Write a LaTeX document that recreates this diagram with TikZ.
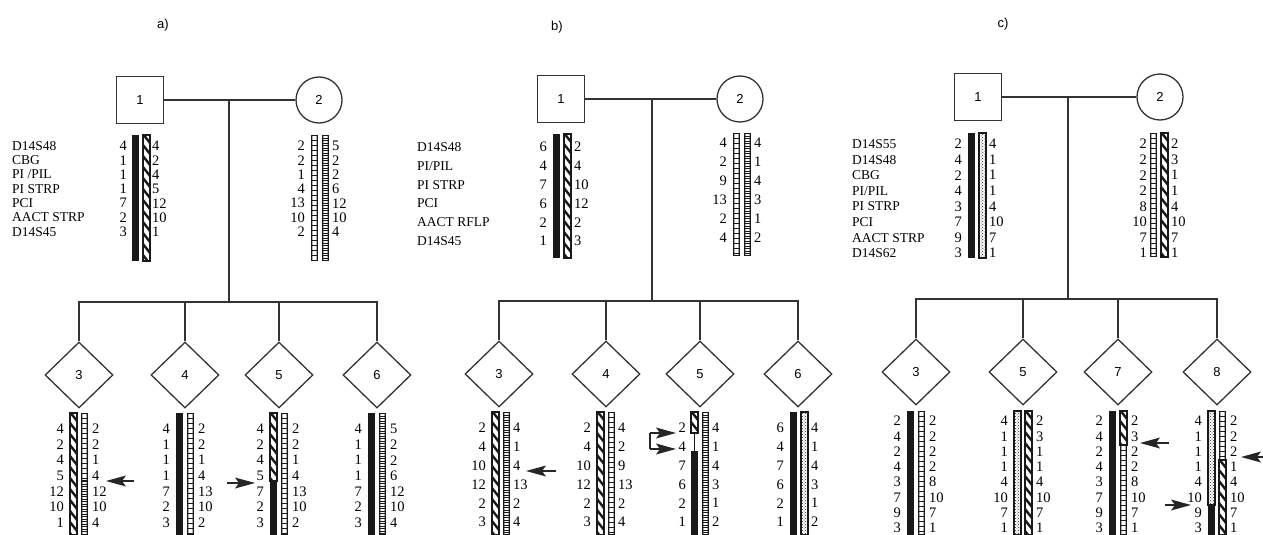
\documentclass[tikz,border=0pt]{standalone}
\usepackage{fontspec}
\setmainfont{Liberation Serif}
\newfontfamily\labfont{Liberation Sans}
\usetikzlibrary{shapes.geometric,patterns}

\tikzset{
  ln/.style={line width=1.3pt, draw=black!80},
  kid/.style={diamond, ln, minimum width=68pt, minimum height=66pt, inner sep=0pt, font=\labfont\fontsize{13}{13}\selectfont},
  male/.style={rectangle, ln, minimum size=47pt, inner sep=0pt, font=\labfont\fontsize{13}{13}\selectfont},
  female/.style={circle, ln, minimum size=46pt, inner sep=0pt, font=\labfont\fontsize{13}{13}\selectfont},
  num/.style={inner sep=0pt, font=\fontsize{14.5}{14.5}\selectfont},
  mk/.style={inner sep=0pt, anchor=west, font=\fontsize{13.5}{13.5}\selectfont},
  shaft/.style={line width=2.4pt, draw=black!85, shorten >=12pt},
  plab/.style={inner sep=0pt, font=\labfont\fontsize{13}{13}\selectfont}
}

% arrowhead: #1 tip coordinate, #2 = 1 points right, -1 points left
\newcommand\ahead[2]{\fill[black!85] (#1) -- ++({-#2*20},-5.5) -- ++({#2*4},5.5) -- ++({-#2*4},5.5) -- cycle;}

% bar patterns: #1 x-left, #2 x-right, #3 y-top, #4 y-bottom
\newcommand\bsolid[4]{\fill[black!90] (#1,#3) rectangle (#2,#4);}
\newcommand\bboxes[4]{%
  \fill[black!90] (#1,#3) rectangle (#2,#4);
  \begin{scope}
    \clip ({#1+1.4},{#3+1.4}) rectangle ({#2-1.4},{#4-1.4});
    \pgfmathsetmacro\bA{#3+1.4}\pgfmathsetmacro\bB{#3+6.4}
    \foreach \yy in {\bA,\bB,...,#4} \fill[white] ({#1+1.4},\yy) rectangle ({#2-1.4},\yy+3.4);
  \end{scope}}
\newcommand\bfine[4]{%
  \fill[black!90] (#1,#3) rectangle (#2,#4);
  \begin{scope}
    \clip ({#1+1.3},{#3+1.3}) rectangle ({#2-1.3},{#4-1.3});
    \pgfmathsetmacro\fA{#3+1.3}\pgfmathsetmacro\fB{#3+3.8}
    \foreach \yy in {\fA,\fB,...,#4} \fill[white] ({#1+1.3},\yy) rectangle ({#2-1.3},\yy+1.2);
  \end{scope}}
\newcommand\bhatch[4]{%
  \fill[white] (#1,#3) rectangle (#2,#4);
  \begin{scope}
    \clip (#1,#3) rectangle (#2,#4);
    \pgfmathsetmacro\hA{#3-12}\pgfmathsetmacro\hB{#3-1}
    \foreach \yy in {\hA,\hB,...,#4} \draw[line width=2.4pt, black!90] (#1,\yy) -- (#2,\yy+9);
  \end{scope}
  \draw[line width=1.2pt, black!90] (#1,#3) rectangle (#2,#4);}
\newcommand\bdots[4]{%
  \fill[white] (#1,#3) rectangle (#2,#4);
  \fill[pattern=crosshatch dots, pattern color=black!85] (#1,#3) rectangle (#2,#4);
  \draw[line width=1.2pt, black!90] (#1,#3) rectangle (#2,#4);}

% number column: #1 name prefix, #2 x, #3 y0, #4 dy, #5 anchor, #6 list
\newcommand\numcol[6]{\foreach \v [count=\i from 0] in {#6} \node[num,anchor=#5] (#1\i) at (#2,{#3+#4*\i}) {\v};}
\newcommand\mkcol[5]{\foreach \v [count=\i from 0] in {#5} \node[mk] (#1\i) at (#2,{#3+#4*\i}) {\v};}

\begin{document}
\begin{tikzpicture}[x=1pt,y=-1pt]
\fill[white] (0,0) rectangle (1263,535);
\useasboundingbox (0,0) rectangle (1263,535);

% ================= panel a =================
\node[plab] (la) at (163,25) {a)};
\node[male] (aF) at (140,100) {1};
\node[female] (aM) at (319,100) {2};
\coordinate (aMid) at (229,100);
\coordinate (aSib) at (229,302);
\node[kid] (a3) at (79,375) {3};
\node[kid] (a4) at (185,375) {4};
\node[kid] (a5) at (279,375) {5};
\node[kid] (a6) at (377,375) {6};
\draw[ln] (aF.east) -- (aM.west);
\draw[ln] (aMid) -- (aSib);
\draw[ln] (a3.north) |- (aSib) -| (a6.north);
\draw[ln] (a4.north) -- (a4.north |- aSib);
\draw[ln] (a5.north) -- (a5.north |- aSib);

\mkcol{amk}{12}{146}{14.3}{D14S48, CBG, PI /PIL, PI STRP, PCI, AACT STRP, D14S45}
\bsolid{132}{139}{135}{261}\bhatch{143}{150}{135}{261}
\numcol{aFl}{127}{146}{14.3}{east}{4,1,1,1,7,2,3}
\numcol{aFr}{152}{146}{14.3}{west}{4,2,4,5,12,10,1}
\bboxes{311}{318}{135}{261}\bfine{322}{329}{135}{261}
\numcol{aMl}{305}{146}{14.3}{east}{2,2,1,4,13,10,2}
\numcol{aMr}{332}{146}{14.3}{west}{5,2,2,6,12,10,4}

% children a
\bhatch{70}{77}{413}{535}
\bboxes{81}{88}{413}{481}\bfine{81}{88}{481}{535}
\numcol{a3l}{64}{429}{15.6}{east}{4,2,4,5,12,10,1}
\numcol{a3r}{92}{429}{15.6}{west}{2,2,1,4,12,10,4}
\bsolid{176}{183}{413}{535}\bboxes{187}{194}{413}{535}
\numcol{a4l}{170}{429}{15.6}{east}{4,1,1,1,7,2,3}
\numcol{a4r}{198}{429}{15.6}{west}{2,2,1,4,13,10,2}
\bhatch{270}{277}{413}{481}\bsolid{270}{277}{481}{535}
\bboxes{281}{288}{413}{535}
\numcol{a5l}{264}{429}{15.6}{east}{4,2,4,5,7,2,3}
\numcol{a5r}{292}{429}{15.6}{west}{2,2,1,4,13,10,2}
\bsolid{368}{375}{413}{535}\bfine{379}{386}{413}{535}
\numcol{a6l}{362}{429}{15.6}{east}{4,1,1,1,7,2,3}
\numcol{a6r}{390}{429}{15.6}{west}{5,2,2,6,12,10,4}

\coordinate (aA1t) at (134,481); \coordinate (aA1h) at (106,481);
\draw[shaft] (aA1t) -- (aA1h); \ahead{aA1h}{-1}
\coordinate (aA2t) at (227,483); \coordinate (aA2h) at (255,483);
\draw[shaft] (aA2t) -- (aA2h); \ahead{aA2h}{1}

% ================= panel b =================
\node[plab] (lb) at (557,27) {b)};
\node[male] (bF) at (561,99) {1};
\node[female] (bM) at (740,99) {2};
\coordinate (bMid) at (652,99);
\coordinate (bSib) at (652,301);
\node[kid] (b3) at (499,374) {3};
\node[kid] (b4) at (606,374) {4};
\node[kid] (b5) at (700,374) {5};
\node[kid] (b6) at (798,374) {6};
\draw[ln] (bF.east) -- (bM.west);
\draw[ln] (bMid) -- (bSib);
\draw[ln] (b3.north) |- (bSib) -| (b6.north);
\draw[ln] (b4.north) -- (b4.north |- bSib);
\draw[ln] (b5.north) -- (b5.north |- bSib);

\mkcol{bmk}{417}{147}{18.8}{D14S48, PI/PIL, PI STRP, PCI, AACT RFLP, D14S45}
\bsolid{553}{560}{134}{258}\bhatch{564}{571}{134}{258}
\numcol{bFl}{547}{147}{18.8}{east}{6,4,7,6,2,1}
\numcol{bFr}{574}{147}{18.8}{west}{2,4,10,12,2,3}
\bboxes{733}{740}{133}{256}\bfine{744}{751}{133}{256}
\numcol{bMl}{727}{143}{19}{east}{4,2,9,13,2,4}
\numcol{bMr}{754}{143}{19}{west}{4,1,4,3,1,2}

% children b
\bhatch{492}{499}{412}{535}\bfine{503}{510}{412}{535}
\numcol{b3l}{486}{428}{18.8}{east}{2,4,10,12,2,3}
\numcol{b3r}{513}{428}{18.8}{west}{4,1,4,13,2,4}
\bhatch{597}{604}{412}{535}\bboxes{608}{615}{412}{535}
\numcol{b4l}{591}{428}{18.8}{east}{2,4,10,12,2,3}
\numcol{b4r}{618}{428}{18.8}{west}{4,2,9,13,2,4}
\bhatch{691}{698}{412}{433}
\draw[line width=1pt, black!90] (694.5,433) -- (694.5,451);
\bsolid{691}{698}{451}{535}
\bfine{702}{709}{412}{535}
\numcol{b5l}{686}{428}{18.8}{east}{2,4,7,6,2,1}
\numcol{b5r}{712}{428}{18.8}{west}{4,1,4,3,1,2}
\bsolid{790}{797}{412}{535}\bdots{801}{808}{412}{535}
\numcol{b6l}{784}{428}{18.8}{east}{6,4,7,6,2,1}
\numcol{b6r}{811}{428}{18.8}{west}{4,1,4,3,1,2}

\coordinate (bA1t) at (556,471); \coordinate (bA1h) at (526,471);
\draw[shaft] (bA1t) -- (bA1h); \ahead{bA1h}{-1}
\coordinate (bB1) at (650,433); \coordinate (bB1h) at (676,433);
\coordinate (bB2) at (650,449); \coordinate (bB2h) at (676,449);
\draw[line width=2.8pt, black!85] (bB1) -- (bB2);
\draw[shaft] (bB1) -- (bB1h); \ahead{bB1h}{1}
\draw[shaft] (bB2) -- (bB2h); \ahead{bB2h}{1}

% ================= panel c =================
\node[plab] (lc) at (1003,24) {c)};
\node[male] (cF) at (978,97) {1};
\node[female] (cM) at (1160,97) {2};
\coordinate (cMid) at (1068,97);
\coordinate (cSib) at (1068,299);
\node[kid] (c3) at (916,372) {3};
\node[kid] (c5) at (1023,372) {5};
\node[kid] (c7) at (1118,372) {7};
\node[kid] (c8) at (1217,372) {8};
\draw[ln] (cF.east) -- (cM.west);
\draw[ln] (cMid) -- (cSib);
\draw[ln] (c3.north) |- (cSib) -| (c8.north);
\draw[ln] (c5.north) -- (c5.north |- cSib);
\draw[ln] (c7.north) -- (c7.north |- cSib);

\mkcol{cmk}{852}{144}{15.6}{D14S55, D14S48, CBG, PI/PIL, PI STRP, PCI, AACT STRP, D14S62}
\bsolid{968}{975}{133}{258}\bdots{979}{986}{133}{258}
\numcol{cFl}{962}{144}{15.6}{east}{2,4,2,4,3,7,9,3}
\numcol{cFr}{989}{144}{15.6}{west}{4,1,1,1,4,10,7,1}
\bboxes{1150}{1157}{133}{257}\bhatch{1161}{1168}{133}{257}
\numcol{cMl}{1147}{144}{15.6}{east}{2,2,2,2,8,10,7,1}
\numcol{cMr}{1171}{144}{15.6}{west}{2,3,1,1,4,10,7,1}

% children c
\bsolid{907}{914}{411}{535}\bboxes{918}{925}{411}{535}
\numcol{c3l}{901}{421}{15.3}{east}{2,4,2,4,3,7,9,3}
\numcol{c3r}{929}{421}{15.3}{west}{2,2,2,2,8,10,7,1}
\bdots{1014}{1021}{411}{535}\bhatch{1025}{1032}{411}{535}
\numcol{c5l}{1008}{421}{15.3}{east}{4,1,1,1,4,10,7,1}
\numcol{c5r}{1036}{421}{15.3}{west}{2,3,1,1,4,10,7,1}
\bsolid{1109}{1116}{411}{535}
\bhatch{1120}{1127}{411}{445}\bboxes{1120}{1127}{445}{535}
\numcol{c7l}{1103}{421}{15.3}{east}{2,4,2,4,3,7,9,3}
\numcol{c7r}{1131}{421}{15.3}{west}{2,3,2,2,8,10,7,1}
\bdots{1208}{1215}{411}{505}\bsolid{1208}{1215}{505}{535}
\bboxes{1219}{1226}{411}{460}\bhatch{1219}{1226}{460}{535}
\numcol{c8l}{1202}{421}{15.3}{east}{4,1,1,1,4,10,9,3}
\numcol{c8r}{1230}{421}{15.3}{west}{2,2,2,1,4,10,7,1}

\coordinate (cA1t) at (1169,443); \coordinate (cA1h) at (1140,443);
\draw[shaft] (cA1t) -- (cA1h); \ahead{cA1h}{-1}
\coordinate (cA2t) at (1165,505); \coordinate (cA2h) at (1191,505);
\draw[shaft] (cA2t) -- (cA2h); \ahead{cA2h}{1}
\coordinate (cA3t) at (1268,457); \coordinate (cA3h) at (1241,457);
\draw[shaft] (cA3t) -- (cA3h); \ahead{cA3h}{-1}
\end{tikzpicture}
\end{document}
